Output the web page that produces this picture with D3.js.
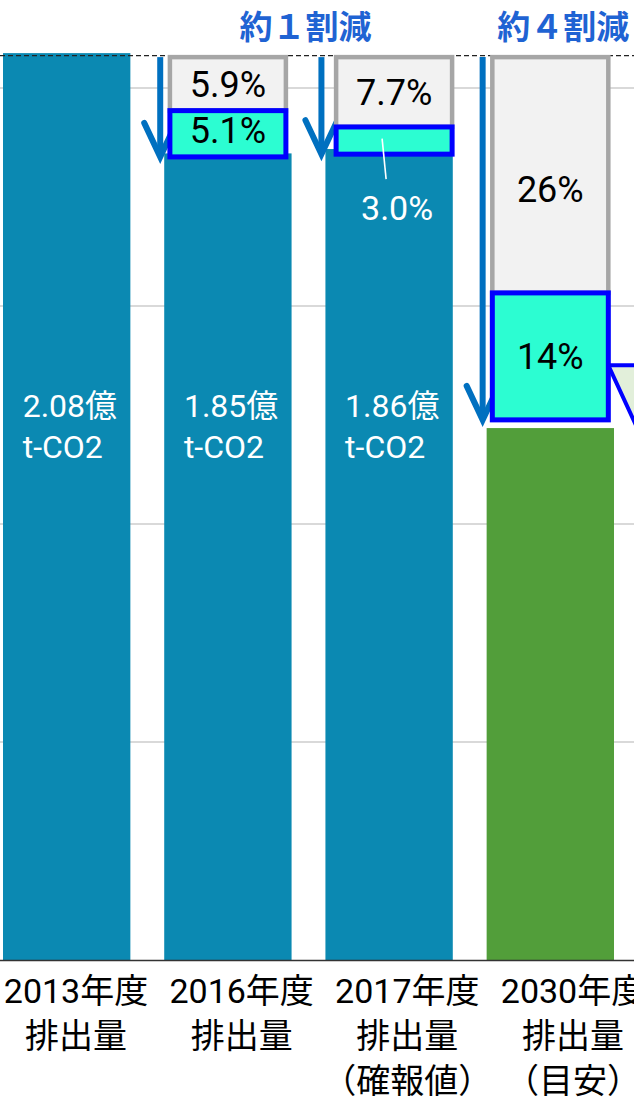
<!DOCTYPE html>
<html lang="ja">
<head>
<meta charset="utf-8">
<script src="https://cdn.jsdelivr.net/npm/d3@7"></script>
<style>
  html, body { margin: 0; padding: 0; background: #ffffff; }
  svg { display: block; font-family: "Noto Sans CJK JP", "Noto Sans", sans-serif; }
</style>
</head>
<body>
<svg id="chart" width="634" height="1098"></svg>
<script>
// 年度別の排出量（億t-CO2）
const categories = ["2013年度", "2016年度", "2017年度", "2030年度"];
const categoryNotes = [["排出量"], ["排出量"], ["排出量", "（確報値）"], ["排出量", "（目安）"]];
const emissions = [2.08, 1.85, 1.86, 1.22];
const emissionLabels = ["2.08億", "1.85億", "1.86億", null];
// 2013年度比の削減率（%）：上段（灰）・下段（水色）
const otherCut = [null, 5.9, 7.7, 26];
const focusCut = [null, 5.1, 3.0, 14];
const yTicks = [0.5, 1.0, 1.5, 2.0];
const reductionTitles = ["約１割減", "約４割減"];
const reductionSpans = [["2016年度", "2017年度"], ["2030年度"]];

const W = 634, H = 1098;
const svg = d3.select("#chart");

const x = d3.scaleBand().domain(categories).range([3, 614]).paddingInner(0.21).paddingOuter(0);
const y = d3.scaleLinear().domain([0, 2.0]).range([960, 88]);
const bw = x.bandwidth();
const base = emissions[0];
const unitPx = y(0) - y(base);            // 2013年度の高さ（=100%）
const stackTop = y(base) + 4;

const teal = "#0b89b2", green = "#529e3a", arrowBlue = "#0070c0";
const latinFirst = "Roboto, 'Noto Sans CJK JP', sans-serif";

// 目盛線
svg.append("g").selectAll("line").data(yTicks).join("line")
  .attr("x1", 0).attr("x2", W)
  .attr("y1", d => y(d)).attr("y2", d => y(d))
  .attr("stroke", "#d9d9d9").attr("stroke-width", 2);

// 棒
svg.append("g").selectAll("rect").data(categories).join("rect")
  .attr("x", d => x(d)).attr("width", bw)
  .attr("y", (d, i) => y(emissions[i]))
  .attr("height", (d, i) => y(0) - y(emissions[i]))
  .attr("fill", (d, i) => i === categories.length - 1 ? green : teal);

// 2013年度水準の破線
svg.append("line")
  .attr("x1", 0).attr("x2", W)
  .attr("y1", y(base) + 2.5).attr("y2", y(base) + 2.5)
  .attr("stroke", "#222").attr("stroke-width", 1.4)
  .attr("stroke-dasharray", "5,3");

// 削減内訳の積み上げ箱
const boxW = 116;
const stacks = categories.map((c, i) => {
  if (otherCut[i] == null) return null;
  const h1 = otherCut[i] / 100 * unitPx;
  const h2 = focusCut[i] / 100 * unitPx;
  const bx = x(c) + (bw - boxW) / 2 + (i === 2 ? 5 : 0);
  return { c, i, bx, y1: stackTop, h1, y2: stackTop + h1, h2, bottom: stackTop + h1 + h2 };
}).filter(Boolean);

// 削減を示す矢印
const arrows = svg.append("g").attr("fill", "none").attr("stroke", arrowBlue);
stacks.forEach(s => {
  const ax = x(s.c) - 4;
  const top = y(base) + 4;
  const tip = s.bottom;
  arrows.append("line")
    .attr("x1", ax).attr("x2", ax).attr("y1", top).attr("y2", tip - 4)
    .attr("stroke-width", 6);
  arrows.append("path")
    .attr("d", `M${ax - 16},${tip - 34} L${ax},${tip} L${ax + 16},${tip - 34}`)
    .attr("stroke-width", 6).attr("stroke-linecap", "round").attr("stroke-linejoin", "miter");
});

// 2030年度の内訳へ向かう吹き出し
const last = stacks[stacks.length - 1];
const wx = last.bx + boxW, wy = last.y2 + last.h2 * 0.57;
svg.append("path")
  .attr("d", `M${wx},${wy} L${wx + 120},${wy} L${wx + 120},${wy + 120 * 63 / 29} Z`)
  .attr("fill", "#e2efda");
svg.append("path")
  .attr("d", `M${wx + 120},${wy} L${wx},${wy} L${wx + 120},${wy + 120 * 63 / 29}`)
  .attr("fill", "none").attr("stroke", "#0000ff").attr("stroke-width", 4);

const boxes = svg.append("g");
stacks.forEach(s => {
  boxes.append("rect")
    .attr("x", s.bx).attr("y", s.y1).attr("width", boxW).attr("height", s.h1)
    .attr("fill", "#f2f2f2").attr("stroke", "#a6a6a6").attr("stroke-width", 4.5);
  boxes.append("rect")
    .attr("x", s.bx).attr("y", s.y2).attr("width", boxW).attr("height", s.h2)
    .attr("fill", "#2cfdd2").attr("stroke", "#0000ff").attr("stroke-width", 5);
});

// 削減率ラベル
const pct = svg.append("g").attr("font-size", 36).attr("text-anchor", "middle")
  .attr("font-family", latinFirst);
stacks.forEach(s => {
  const cx = s.bx + boxW / 2;
  pct.append("text")
    .attr("x", cx).attr("y", s.y1 + s.h1 / 2 + 13 + (s.h1 > 150 ? 14 : 0))
    .attr("fill", "#000").text(d3.format(".1f")(otherCut[s.i]).replace(/\.0$/, s.h1 > 150 ? "" : ".0") + "%");
  if (s.h2 > 35) {
    pct.append("text")
      .attr("x", cx).attr("y", s.y2 + s.h2 / 2 + 9 + (s.h2 > 100 ? 4 : 0))
      .attr("fill", "#000").text((s.h2 > 100 ? d3.format("d")(focusCut[s.i]) : d3.format(".1f")(focusCut[s.i])) + "%");
  } else {
    const lx = cx - 12;
    svg.append("line")
      .attr("x1", lx).attr("y1", s.y2 + s.h2 / 2 - 2)
      .attr("x2", lx + 4).attr("y2", s.y2 + s.h2 + 25)
      .attr("stroke", "#fff").attr("stroke-width", 1.6);
    pct.append("text")
      .attr("x", cx + 3).attr("y", s.bottom + 66)
      .attr("font-size", 34)
      .attr("fill", "#fff").text(d3.format(".1f")(focusCut[s.i]) + "%");
  }
});

// 棒内の排出量ラベル
const vl = svg.append("g").attr("font-size", 32).attr("fill", "#fff")
  .attr("font-family", latinFirst);
categories.forEach((c, i) => {
  if (!emissionLabels[i]) return;
  const lx = x(c) + bw / 2 - 44;
  vl.append("text").attr("x", lx).attr("y", 417).text(emissionLabels[i]);
  vl.append("text").attr("x", lx).attr("y", 458).text("t-CO2");
});

// 削減幅の見出し
const tg = svg.append("g").attr("font-size", 33).attr("font-weight", 700)
  .attr("fill", "#1f63d3").attr("text-anchor", "middle");
reductionTitles.forEach((t, k) => {
  const cs = reductionSpans[k];
  const cx = d3.mean(cs, c => x(c) + bw / 2) + (cs.length === 1 ? 13 : -3);
  tg.append("text").attr("x", cx).attr("y", 39).text(t);
});

// 横軸
svg.append("line")
  .attr("x1", 0).attr("x2", W).attr("y1", y(0) + 0.5).attr("y2", y(0) + 0.5)
  .attr("stroke", "#333").attr("stroke-width", 1.6);

const lxScale = d3.scalePoint().domain(categories).range([76, 573]);
const al = svg.append("g").attr("font-size", 34).attr("fill", "#000")
  .attr("text-anchor", "middle").attr("font-family", latinFirst);
categories.forEach((c, i) => {
  [c].concat(categoryNotes[i]).forEach((line, k) => {
    al.append("text").attr("x", lxScale(c)).attr("y", 1003 + k * 45).text(line);
  });
});
</script>
</body>
</html>
